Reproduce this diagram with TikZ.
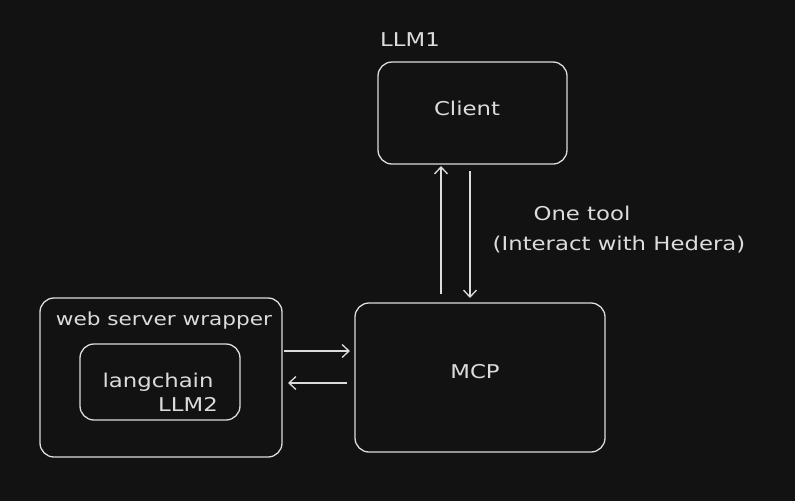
\documentclass[tikz,border=0pt]{standalone}
\usepackage{fontspec}
\setmainfont[FakeStretch=1.2]{DejaVu Sans}
\usetikzlibrary{arrows.meta}
\definecolor{bg}{HTML}{121212}
\definecolor{ink}{HTML}{DCDCDC}
\begin{document}
\begin{tikzpicture}[x=1pt,y=-1pt,
  box/.style={draw=ink,line width=1.3pt,rounded corners=14pt},
  lbl/.style={text=ink,font=\fontsize{19}{22}\selectfont,inner sep=0pt},
  conn/.style={draw=ink,line width=1.3pt,-{Straight Barb[length=7pt,width=13pt]}}]
\fill[bg] (0,0) rectangle (795,501);
\useasboundingbox (0,0) rectangle (795,501);
% boxes
\draw[box] (378,62) rectangle (567,164);
\draw[box] (355,303) rectangle (605,452);
\draw[box] (40,298) rectangle (282,457);
\draw[box] (80,344) rectangle (240,420);
% named anchors
\coordinate (cb1) at (441,166);
\coordinate (mt1) at (441,294);
\coordinate (cb2) at (470,171);
\coordinate (mt2) at (470,298);
\coordinate (wr1) at (284,351);
\coordinate (ml1) at (350,351);
\coordinate (ml2) at (347,383);
\coordinate (wr2) at (288,383);
% labels
\node[lbl] (llm1) at (410,40) {LLM1};
\node[lbl] (client) at (467,108) {Client};
\node[lbl] (mcp) at (475,372) {MCP};
\node[lbl,font=\fontsize{18}{22}\selectfont] (web) at (164,321) {web server wrapper};
\node[lbl] (lang) at (158,382) {langchain};
\node[lbl] (llm2) at (188,404) {LLM2};
\node[lbl] (tool1) at (582,213) {One tool};
\node[lbl] (tool2) at (619,245) {(Interact with Hedera)};
% connectors
\draw[conn] (mt1) -- (cb1);
\draw[conn] (cb2) -- (mt2);
\draw[conn] (wr1) -- (ml1);
\draw[conn] (ml2) -- (wr2);
\end{tikzpicture}
\end{document}
